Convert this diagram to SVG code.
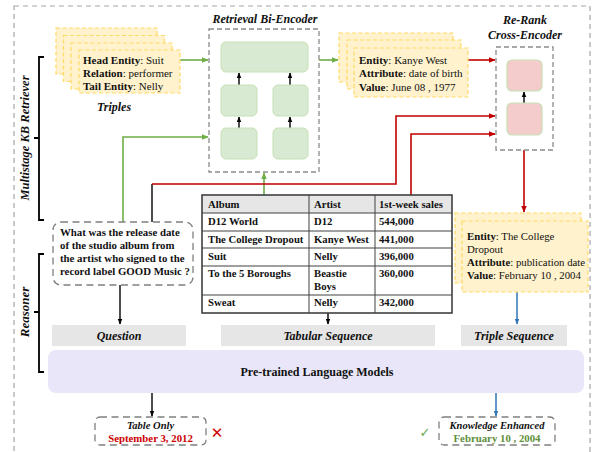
<svg xmlns="http://www.w3.org/2000/svg" width="594" height="452" viewBox="0 0 594 452">
<style>
.t{font-family:"Liberation Serif","Times New Roman",serif;fill:#111}
.b{font-weight:bold}
.bi{font-weight:bold;font-style:italic}
.ylw{fill:#fff2cc;stroke:#ffd966;stroke-width:1.2;stroke-dasharray:4,2.5}
.enc{fill:none;stroke:#8c8c8c;stroke-width:1.3;stroke-dasharray:5,3}
.gbox{fill:#d9ead3;stroke:#c6e0b4;stroke-width:1}
.pbox{fill:#f4cccc;stroke:#c6e0b4;stroke-width:1.2}
.lbl{fill:#e6e6e6}
.g{fill:none;stroke:#70ad47;stroke-width:1.6}
.r{fill:none;stroke:#c00000;stroke-width:1.6}
.k{fill:none;stroke:#000;stroke-width:1.4}
.bl{fill:none;stroke:#2e75b6;stroke-width:1.5}
.br{fill:none;stroke:#000;stroke-width:1.8}
.tl{stroke:#404040;stroke-width:1}
</style>
<defs>
<marker id="ag" viewBox="0 0 10 10" refX="9" refY="5" markerWidth="7" markerHeight="7" orient="auto" markerUnits="userSpaceOnUse"><path d="M0,1 L10,5 L0,9 z" fill="#70ad47"/></marker>
<marker id="ar" viewBox="0 0 10 10" refX="9" refY="5" markerWidth="7" markerHeight="7" orient="auto" markerUnits="userSpaceOnUse"><path d="M0,1 L10,5 L0,9 z" fill="#c00000"/></marker>
<marker id="ak" viewBox="0 0 10 10" refX="9" refY="5" markerWidth="6" markerHeight="6" orient="auto" markerUnits="userSpaceOnUse"><path d="M0,1 L10,5 L0,9 z" fill="#000"/></marker>
<marker id="ab" viewBox="0 0 10 10" refX="9" refY="5" markerWidth="6" markerHeight="6" orient="auto" markerUnits="userSpaceOnUse"><path d="M0,1 L10,5 L0,9 z" fill="#2e75b6"/></marker>
</defs>

<!-- outer frame -->
<rect x="14" y="6" width="576" height="470" fill="none" stroke="#a6a6a6" stroke-width="1.2" stroke-dasharray="5,4"/>

<!-- brackets -->
<g id="retriever-label">
<path class="br" d="M44,57 H39 V220 H44 M39,138 H34"/>
<text class="t bi" font-size="12.5" transform="translate(29,138) rotate(-90)" text-anchor="middle">Multistage KB Retriever</text>
</g>
<g id="reasoner-label">
<path class="br" d="M44,254 H39 V372 H44 M39,312 H34"/>
<text class="t bi" font-size="13" transform="translate(29,312) rotate(-90)" text-anchor="middle">Reasoner</text>
</g>

<!-- connectors -->
<g id="connectors">
<path class="g" d="M180,60 H208" marker-end="url(#ag)"/>
<path class="g" d="M319,60 H338" marker-end="url(#ag)"/>
<path class="g" d="M123,222 V137 H208" marker-end="url(#ag)"/>
<path class="g" d="M264,195 V173" marker-end="url(#ag)"/>
<path class="r" d="M468,60 H495" marker-end="url(#ar)"/>
<path class="k" d="M152,222 V184"/>
<path class="r" d="M152,184 H396 V116 H495" marker-end="url(#ar)"/>
<path class="r" d="M411,195 V134 H495" marker-end="url(#ar)"/>
<path class="r" d="M524,150 V212" marker-end="url(#ar)"/>
<path class="k" d="M239,85 V73" marker-end="url(#ak)"/>
<path class="k" d="M290,85 V73" marker-end="url(#ak)"/>
<path class="k" d="M239,128 V117" marker-end="url(#ak)"/>
<path class="k" d="M290,128 V117" marker-end="url(#ak)"/>
<path class="k" d="M524,103 V92" marker-end="url(#ak)"/>
<path class="k" d="M120,285 V324" marker-end="url(#ak)"/>
<path class="k" d="M328,313 V324" marker-end="url(#ak)"/>
<path class="bl" d="M517,292 V324" marker-end="url(#ab)"/>
<path class="k" d="M152,393 V416" marker-end="url(#ak)"/>
<path class="bl" d="M496,393 V416" marker-end="url(#ab)"/>
</g>

<!-- triples -->
<g id="triples">
<rect class="ylw" x="56" y="28" width="101" height="46"/>
<rect class="ylw" x="63.5" y="35.5" width="101" height="46"/>
<rect class="ylw" x="71" y="43" width="101" height="46"/>
<rect class="ylw" x="79" y="50" width="101" height="43"/>
<text class="t" font-size="11" x="83" y="64"><tspan class="b">Head Entity</tspan>: Suit</text>
<text class="t" font-size="11" x="83" y="77"><tspan class="b">Relation</tspan>: performer</text>
<text class="t" font-size="11" x="83" y="90"><tspan class="b">Tail Entity</tspan>: Nelly</text>
<text class="t bi" font-size="12" x="114" y="111" text-anchor="middle">Triples</text>
</g>

<!-- bi-encoder -->
<g id="bi-encoder">
<text class="t bi" font-size="12" x="265" y="23" text-anchor="middle">Retrieval Bi-Encoder</text>
<rect class="enc" x="209" y="29" width="110" height="143"/>
<rect class="gbox" x="221" y="42" width="87" height="30" rx="5"/>
<rect class="gbox" x="221" y="85" width="36" height="31" rx="5"/>
<rect class="gbox" x="273" y="85" width="35" height="31" rx="5"/>
<rect class="gbox" x="221" y="128" width="36" height="31" rx="5"/>
<rect class="gbox" x="273" y="128" width="35" height="31" rx="5"/>
</g>

<!-- retrieved entity attributes -->
<g id="entity-attrs">
<rect class="ylw" x="339" y="33" width="114" height="49"/>
<rect class="ylw" x="347" y="40" width="114" height="49"/>
<rect class="ylw" x="354" y="48" width="114" height="49"/>
<text class="t" font-size="11" x="359" y="64"><tspan class="b">Entity</tspan>: Kanye West</text>
<text class="t" font-size="11" x="359" y="77"><tspan class="b">Attribute</tspan>: date of birth</text>
<text class="t" font-size="11" x="359" y="91"><tspan class="b">Value</tspan>: June 08 , 1977</text>
</g>

<!-- cross-encoder -->
<g id="cross-encoder">
<text class="t bi" font-size="12" x="525" y="24" text-anchor="middle">Re-Rank</text>
<text class="t bi" font-size="12" x="525" y="39" text-anchor="middle">Cross-Encoder</text>
<rect class="enc" x="496" y="47" width="57" height="103"/>
<rect class="pbox" x="507" y="60" width="35" height="31" rx="5"/>
<rect class="pbox" x="507" y="103" width="35" height="32" rx="5"/>
</g>

<!-- question -->
<g id="question">
<rect x="53" y="222" width="140" height="63" rx="8" fill="#fff" stroke="#7f7f7f" stroke-width="1.3" stroke-dasharray="7,4.5"/>
<text class="t b" font-size="10.8" x="60" y="236">What was the release date</text>
<text class="t b" font-size="10.8" x="60" y="249">of the studio album from</text>
<text class="t b" font-size="10.8" x="60" y="262">the artist who signed to the</text>
<text class="t b" font-size="10.8" x="60" y="275">record label GOOD Music ?</text>
</g>

<!-- table -->
<g id="table">
<rect x="202" y="195" width="250" height="18" fill="#e7e6e6"/>
<path class="tl" d="M202,213 H452 M202,231 H452 M202,248 H452 M202,266 H452 M202,295 H452 M309,195 V313 M375,195 V313"/>
<rect x="202" y="195" width="250" height="118" fill="none" stroke="#404040" stroke-width="1.6"/>
<g class="t b" font-size="10.7">
<text x="208" y="207.5">Album</text><text x="314" y="207.5">Artist</text><text x="379" y="207.5">1st-week sales</text>
<text x="208" y="225">D12 World</text><text x="314" y="225">D12</text><text x="379" y="225">544,000</text>
<text x="208" y="243">The College Dropout</text><text x="314" y="243">Kanye West</text><text x="379" y="243">441,000</text>
<text x="208" y="260">Suit</text><text x="314" y="260">Nelly</text><text x="379" y="260">396,000</text>
<text x="208" y="277">To the 5 Boroughs</text><text x="314" y="277">Beastie</text><text x="314" y="290">Boys</text><text x="379" y="277">360,000</text>
<text x="208" y="306">Sweat</text><text x="314" y="306">Nelly</text><text x="379" y="306">342,000</text>
</g>
</g>

<!-- retrieved triple -->
<g id="triple-result">
<rect class="ylw" x="455" y="213" width="126" height="70"/>
<rect class="ylw" x="462" y="221" width="126" height="71"/>
<text class="t" font-size="10.8" x="467" y="240"><tspan class="b">Entity</tspan>: The College</text>
<text class="t" font-size="10.8" x="467" y="253">Dropout</text>
<text class="t" font-size="10.8" x="467" y="266"><tspan class="b">Attribute</tspan>: publication date</text>
<text class="t" font-size="10.8" x="467" y="279"><tspan class="b">Value</tspan>: February 10 , 2004</text>
</g>

<!-- sequence labels -->
<g id="label-question">
<rect class="lbl" x="52" y="325" width="134" height="21"/>
<text class="t bi" font-size="12" x="119" y="340" text-anchor="middle">Question</text>
</g>
<g id="label-tabular">
<rect class="lbl" x="221" y="325" width="214" height="21"/>
<text class="t bi" font-size="12" x="328" y="340" text-anchor="middle">Tabular Sequence</text>
</g>
<g id="label-triple">
<rect class="lbl" x="461" y="325" width="106" height="21"/>
<text class="t bi" font-size="12" x="514" y="340" text-anchor="middle">Triple Sequence</text>
</g>

<!-- PLM -->
<g id="plm">
<rect x="48" y="350" width="536" height="43" rx="8" fill="#e8e6f8"/>
<text class="t b" font-size="12" x="317" y="376" text-anchor="middle">Pre-trained Language Models</text>
</g>

<!-- outputs -->
<g id="table-only">
<rect x="95" y="417" width="111" height="28" rx="5" fill="#fff" stroke="#7f7f7f" stroke-width="1.3" stroke-dasharray="7,4.5"/>
<text class="t bi" font-size="10.5" x="150.5" y="428.5" text-anchor="middle">Table Only</text>
<text class="t b" font-size="10.8" x="150.5" y="441.5" text-anchor="middle" style="fill:#cc0000">September 3, 2012</text>
<text x="217" y="438" font-family="DejaVu Sans, sans-serif" font-size="15" text-anchor="middle" fill="#d00000">✕</text>
</g>
<g id="knowledge-enhanced">
<rect x="439" y="417" width="116" height="28" rx="5" fill="#fff" stroke="#7f7f7f" stroke-width="1.3" stroke-dasharray="7,4.5"/>
<text class="t bi" font-size="10.5" x="497" y="428.5" text-anchor="middle">Knowledge Enhanced</text>
<text class="t b" font-size="10.8" x="497" y="441.5" text-anchor="middle" style="fill:#5e8f3a">February 10 , 2004</text>
<text x="425" y="437" font-family="DejaVu Sans, sans-serif" font-size="13" text-anchor="middle" fill="#6aa84f">✓</text>
</g>
</svg>
